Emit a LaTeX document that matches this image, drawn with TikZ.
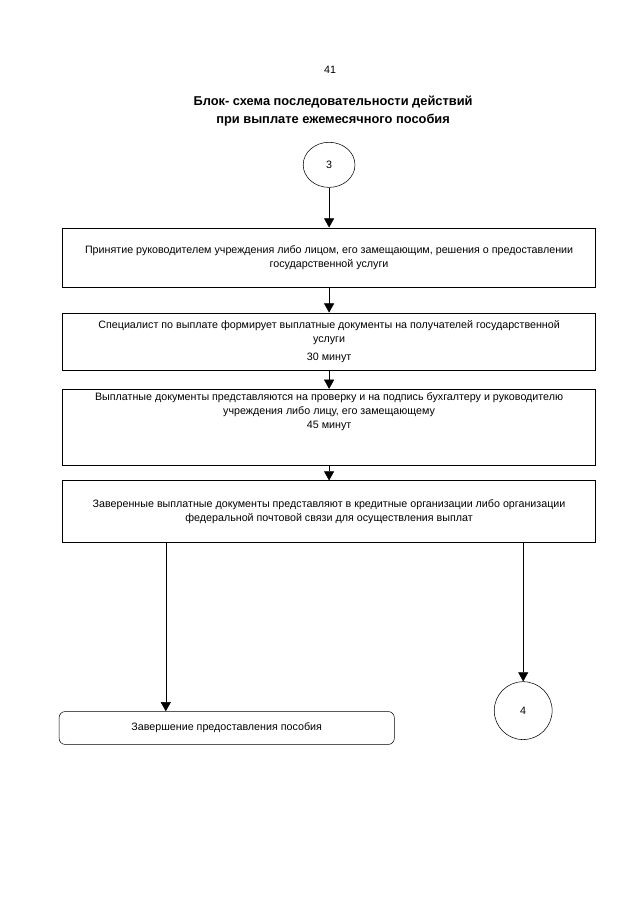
\documentclass[tikz,border=0pt]{standalone}
\usepackage{fontspec}
\setmainfont{Liberation Sans}
\usetikzlibrary{shapes.geometric, arrows, arrows.meta, calc}
\tikzstyle{startstop} = [rectangle, rounded corners=2mm, minimum width=11cm, minimum height=1.08cm, text centered, draw=black, line width=0.5pt, font=\fontsize{10}{13}\selectfont]
\tikzstyle{process} = [rectangle, minimum width=17.5cm, text centered, align=center, draw=black, line width=0.5pt, font=\fontsize{10}{13}\selectfont]
\tikzstyle{connector} = [ellipse, draw=black, line width=0.5pt, inner sep=0pt, font=\fontsize{10}{13}\selectfont]
\tikzstyle{arrow} = [line width=0.5pt, -{Triangle[length=3mm, width=3.3mm]}]

\begin{document}
\begin{tikzpicture}[node distance=1cm]
            \useasboundingbox (0,0) rectangle (21,-29.7);
            \node (page) [font=\fontsize{10}{13}\selectfont] at (10.83,-2.30) {41};
            \node (title) [align=center, font=\bfseries\fontsize{12}{17}\selectfont] at (10.93,-3.64) {Блок- схема последовательности действий\\при выплате ежемесячного пособия};

            \node (circ3) [connector, minimum width=1.7cm, minimum height=1.48cm] at (10.8,-5.41) {3};
            \node (accept) [process, minimum height=1.94cm, below of=circ3, node distance=3.035cm] {Принятие руководителем учреждения либо лицом, его замещающим, решения о предоставлении\\государственной услуги};
            \node (docs) [process, minimum height=1.87cm, below of=accept, node distance=2.756cm] {Специалист по выплате формирует выплатные документы на получателей государственной\\услуги\\[0.13cm]30 минут};
            \node (check) [process, below of=docs, node distance=2.82cm] {Выплатные документы представляются на проверку и на подпись бухгалтеру и руководителю\\учреждения либо лицу, его замещающему\\45 минут\\[0.64cm]\mbox{}};
            \node (submit) [process, minimum height=2.03cm, below of=check, node distance=2.77cm] {Заверенные выплатные документы представляют в кредитные организации либо организации\\федеральной почтовой связи для осуществления выплат};
            \node (finish) [startstop, below of=submit, node distance=7.1cm, xshift=-3.36cm] {Завершение предоставления пособия};
            \node (circ4) [connector, minimum size=1.9cm, below of=submit, node distance=6.53cm, xshift=6.37cm] {4};
            \coordinate (split) at ($(submit.south west)+(3.4cm,0)$);

            \draw [arrow] (circ3) -- (accept);
            \draw [arrow] (accept) -- (docs);
            \draw [arrow] (docs) -- (check);
            \draw [arrow] (check) -- (submit);
            \draw [arrow] (split) -- (split |- finish.north);
            \draw [arrow] (circ4 |- submit.south) -- (circ4.north);
        \end{tikzpicture}
\end{document}
